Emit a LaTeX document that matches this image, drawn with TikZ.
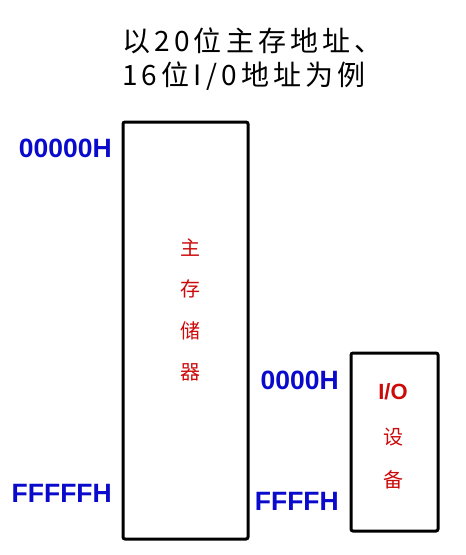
\documentclass[tikz,border=0pt]{standalone}
\usepackage{fontspec}
\setmainfont{Liberation Sans}
\newfontfamily\cjk{Noto Sans CJK SC}
\newfontfamily\cjktitle[LetterSpace=15]{Noto Sans CJK SC}
\definecolor{addrblue}{HTML}{0A0ACC}
\definecolor{labred}{HTML}{CC0A0A}
\begin{document}
\begin{tikzpicture}[x=1pt,y=-1pt,
  box/.style={draw=black,line width=3pt,rounded corners=2pt},
  addr/.style={text=addrblue,font=\fontsize{26.5}{26.5}\selectfont\bfseries,inner sep=0pt},
  redlab/.style={text=labred,font=\cjk\fontsize{20}{20}\selectfont,inner sep=0pt},
  title/.style={font=\cjktitle\fontsize{28}{28}\selectfont,inner sep=0pt}]
\useasboundingbox (0,0) rectangle (466,555);
\node[title,anchor=west] (t1) at (122,41) {以20位主存地址、};
\node[title,anchor=west] (t2) at (122,76) {16位I/0地址为例};
\draw[box] (123,122) rectangle (248,539);
\draw[box] (351,353) rectangle (438,531);
\node[addr,anchor=east] (a1) at (112,148) {00000H};
\node[addr,anchor=east] (a2) at (112,493) {FFFFFH};
\node[addr,anchor=east] (a3) at (339,380) {0000H};
\node[addr,anchor=east] (a4) at (339,501) {FFFFH};
\node[redlab] (m1) at (190,248) {主};
\node[redlab] (m2) at (190,289) {存};
\node[redlab] (m3) at (190,331) {储};
\node[redlab] (m4) at (190,372) {器};
\node[text=labred,font=\fontsize{22}{22}\selectfont\bfseries,inner sep=0pt] (i1) at (393,392) {I/O};
\node[redlab] (i2) at (393,437) {设};
\node[redlab] (i3) at (393,480) {备};
\end{tikzpicture}
\end{document}
